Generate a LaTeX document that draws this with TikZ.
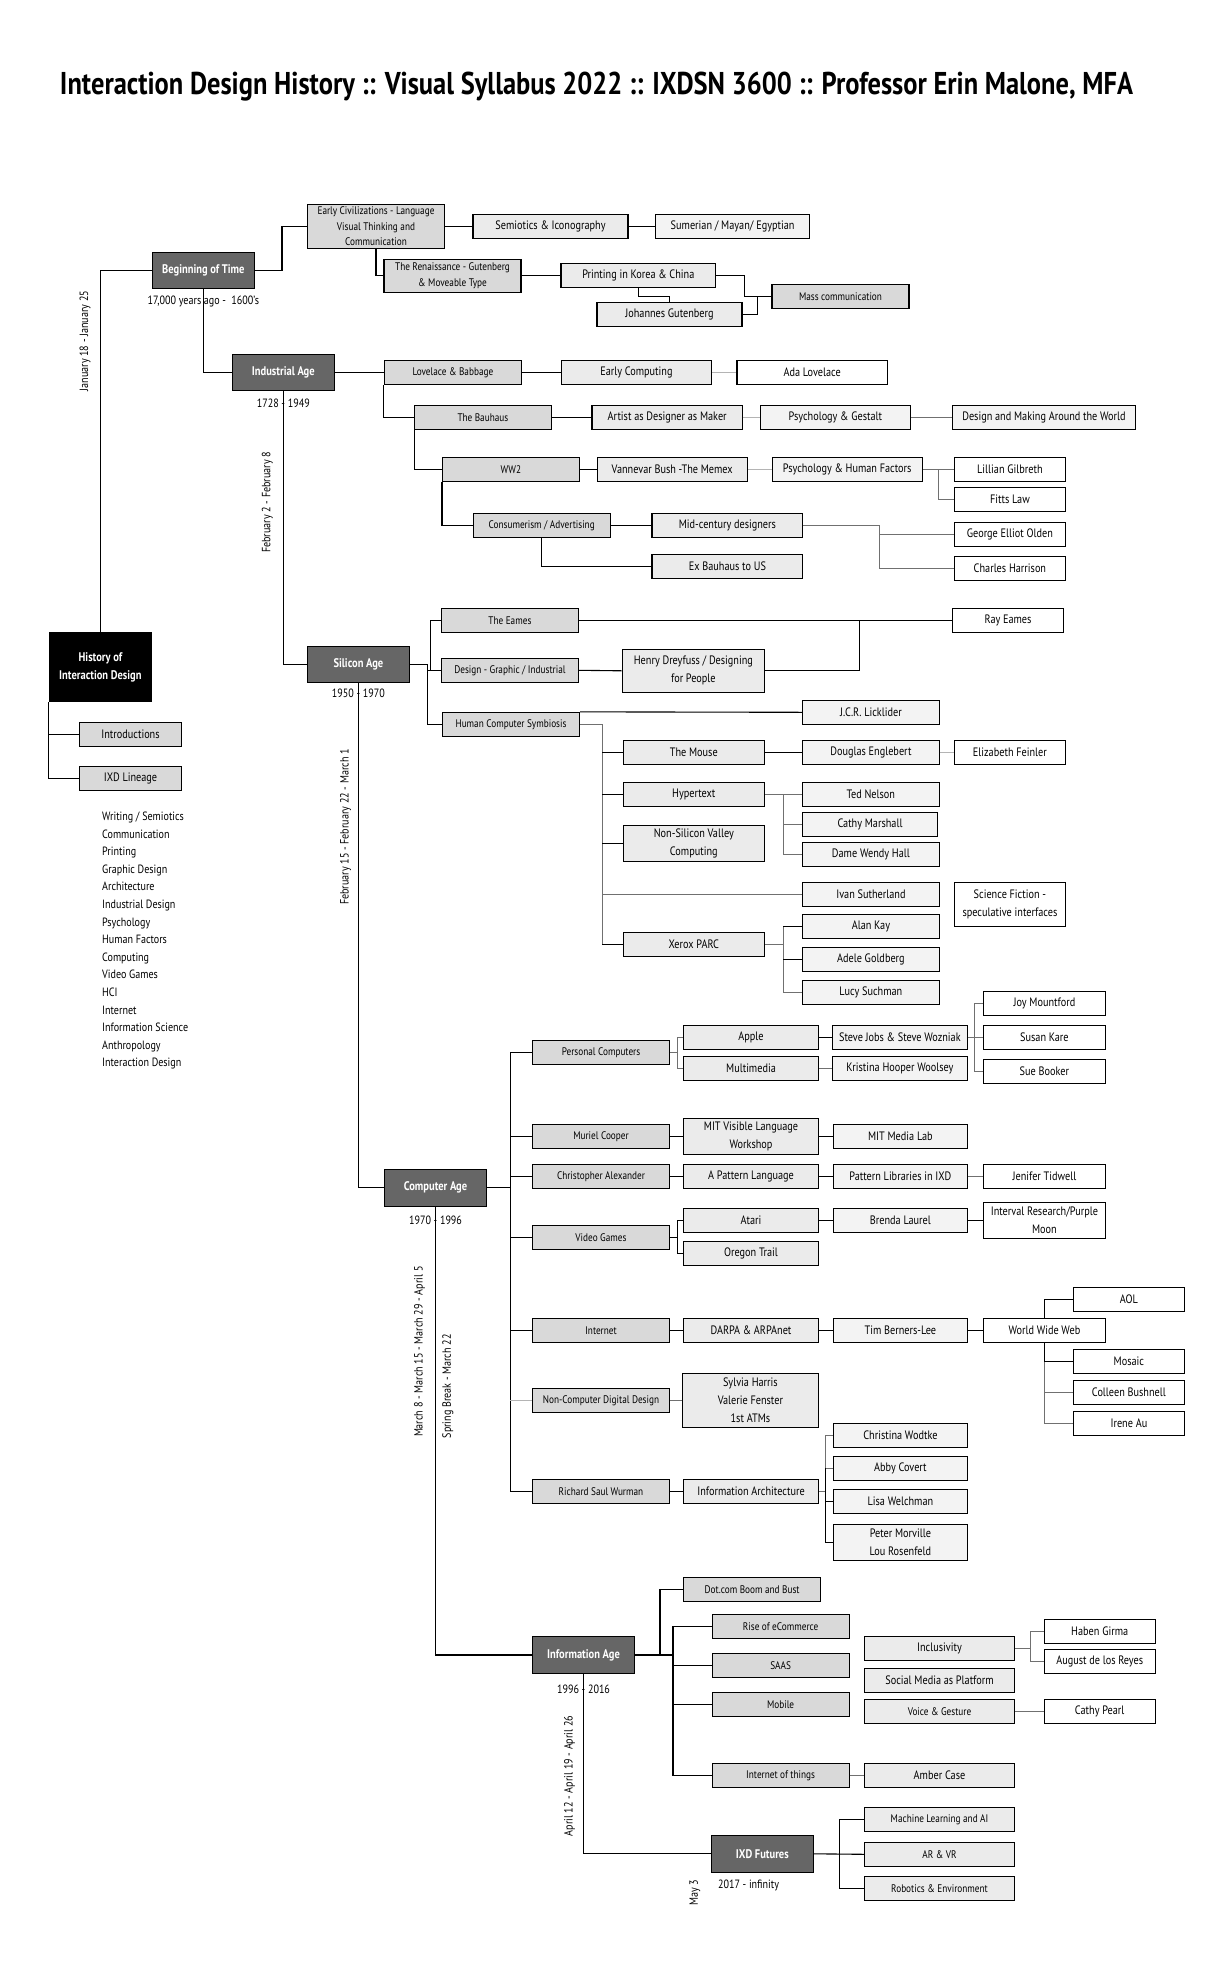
\documentclass[tikz,border=0pt]{standalone}
\usepackage{fontspec}
\setmainfont{PT Sans}[FakeStretch=0.84]
\usepackage{tikz}
\usetikzlibrary{positioning, calc}

\definecolor{agegray}{HTML}{666666}
\definecolor{boxA}{HTML}{D9D9D9}
\definecolor{boxB}{HTML}{EBEBEB}
\definecolor{boxC}{HTML}{F3F3F3}
\definecolor{wiregray}{HTML}{707070}
\definecolor{wirelight}{HTML}{B4B4B4}

\begin{document}
\begin{tikzpicture}[x=1pt, y=-1pt,
    nbox/.style={draw=black, line width=1.1pt, inner sep=0pt, inner xsep=2pt,
      minimum height=24pt, align=center, font=\fontsize{12.2}{18}\selectfont},
    sbox/.style={nbox, font=\fontsize{11}{15.7}\selectfont},
    wd/.style={minimum width=#1pt},
    ht/.style={minimum height=#1pt},
    agebox/.style={nbox, fill=agegray, text=white, minimum height=36pt,
      font=\bfseries\fontsize{12.5}{18}\selectfont},
    hist/.style={nbox, fill=black, text=white,
      font=\bfseries\fontsize{12.5}{18}\selectfont},
    topA/.style={sbox, fill=boxA},
    topAn/.style={nbox, fill=boxA},
    subB/.style={nbox, fill=boxB},
    subBs/.style={sbox, fill=boxB},
    leafC/.style={nbox, fill=boxC},
    leafW/.style={nbox, fill=white},
    wire/.style={draw=black, line width=1.1pt},
    wiregray/.style={draw=wiregray, line width=1.1pt},
    wirelight/.style={draw=wirelight, line width=1.1pt},
    datelbl/.style={font=\fontsize{12}{13}\selectfont, inner sep=0pt},
    weeklbl/.style={font=\fontsize{12}{13}\selectfont, inner sep=0pt, rotate=90},
    topic/.style={font=\fontsize{12}{13}\selectfont, inner sep=0pt, anchor=base west}
]
\fill[white] (0,0) rectangle (1224,1980);
\useasboundingbox (0,0) rectangle (1224,1980);

\node[font=\bfseries\fontsize{31.5}{34}\selectfont, anchor=base] (title) at (596.5,95)
  {Interaction Design History :: Visual Syllabus 2022 :: IXDSN 3600 :: Professor Erin Malone, MFA};

% history and lineage
\node[hist, wd=102.7, ht=69.4] (hixd) at (100.4,667) {History of\\Interaction Design};
\node[topAn, wd=102] (intro) at (130.5,734.3) {Introductions};
\node[topAn, wd=102] (lineage) at (130.5,778.3) {IXD Lineage};
\foreach \topic [count=\i from 0] in {Writing / Semiotics, Communication, Printing,
    Graphic Design, Architecture, Industrial Design, Psychology, Human Factors,
    Computing, Video Games, HCI, Internet, Information Science, Anthropology,
    Interaction Design}
  \node[topic] (topic\i) at (102,{820.5+17.6*\i}) {\topic};

% beginning of time
\node[agebox, wd=101.5] (bot) at (203.3,270.3) {Beginning of Time};
\node[topA, wd=137, ht=44] (earlyciv) at (376,226.3) {Early Civilizations - Language\\Visual Thinking and\\Communication};
\node[subB, wd=155] (semiotics) at (550.5,226.3) {Semiotics \& Iconography};
\node[leafC, wd=154] (sumerian) at (732.6,226.3) {Sumerian / Mayan/ Egyptian};
\node[topA, wd=137, ht=33] (renaissance) at (452.5,275.8) {The Renaissance - Gutenberg\\\& Moveable Type};
\node[subB, wd=154.6] (printing) at (638.3,275.8) {Printing in Korea \& China};
\node[subB, wd=145] (gutenberg) at (669.5,314.3) {Johannes Gutenberg};
\node[topA, wd=137] (masscomm) at (840.5,296.3) {Mass communication};

% industrial age
\node[agebox, wd=101.8] (industrial) at (283.3,372.3) {Industrial Age};
\node[topA, wd=137] (lovelace) at (452.9,372.3) {Lovelace \& Babbage};
\node[subB, wd=150.7] (earlycomp) at (636.4,372.3) {Early Computing};
\node[leafW, wd=150.4] (ada) at (812.2,372.3) {Ada Lovelace};
\node[topA, wd=136.6] (bauhaus) at (482.9,417.3) {The Bauhaus};
\node[subB, wd=150.4] (artist) at (667.2,417.3) {Artist as Designer as Maker};
\node[leafC, wd=150] (gestalt) at (835.4,417.3) {Psychology \& Gestalt};
\node[leafC, wd=183] (making) at (1044,417.3) {Design and Making Around the World};
\node[topA, wd=136.7] (ww2) at (510.9,469.3) {WW2};
\node[subB, wd=150.3] (memex) at (672.2,469.3) {Vannevar Bush -The Memex};
\node[leafC, wd=150] (humfac) at (847.2,469.3) {Psychology \& Human Factors};
\node[leafW, wd=111] (gilbreth) at (1009.9,469.3) {Lillian Gilbreth};
\node[leafW, wd=111] (fitts) at (1009.9,499.3) {Fitts Law};
\node[topA, wd=137] (consumer) at (541.7,525.3) {Consumerism / Advertising};
\node[subB, wd=150.8] (midcentury) at (727.4,525.3) {Mid-century designers};
\node[subB, wd=150.8] (exbauhaus) at (727.4,566.3) {Ex Bauhaus to US};
\node[leafW, wd=111] (olden) at (1009.9,534.3) {George Elliot Olden};
\node[leafW, wd=111] (harrison) at (1009.9,568.3) {Charles Harrison};

% silicon age
\node[agebox, wd=101.8] (silicon) at (358.4,664.5) {Silicon Age};
\node[topA, wd=137] (eames) at (509.9,620.3) {The Eames};
\node[topA, wd=137] (graphic) at (509.9,670.3) {Design - Graphic / Industrial};
\node[topA, wd=137] (symbiosis) at (511,724.4) {Human Computer Symbiosis};
\node[leafW, wd=111] (rayeames) at (1008,620.3) {Ray Eames};
\node[subB, wd=142.4, ht=43] (dreyfuss) at (693.4,670.8) {Henry Dreyfuss / Designing\\for People};
\node[leafC, wd=137] (licklider) at (870.9,712.3) {J.C.R. Licklider};
\node[subB, wd=141] (mouse) at (693.8,752.3) {The Mouse};
\node[subB, wd=141] (hypertext) at (693.8,794.3) {Hypertext};
\node[subB, wd=141, ht=36] (nonsv) at (693.8,843.3) {Non-Silicon Valley\\Computing};
\node[subB, wd=141] (xerox) at (693.8,944.3) {Xerox PARC};
\node[leafC, wd=137] (englebert) at (870.9,752.3) {Douglas Englebert};
\node[leafW, wd=111] (feinler) at (1009.9,752.3) {Elizabeth Feinler};
\node[leafC, wd=137] (nelson) at (870.9,794.3) {Ted Nelson};
\node[leafC, wd=135] (marshall) at (870,824.3) {Cathy Marshall};
\node[leafC, wd=137] (hall) at (870.9,854.3) {Dame Wendy Hall};
\node[leafC, wd=137] (sutherland) at (870.9,894.3) {Ivan Sutherland};
\node[leafW, wd=111, ht=44] (scifi) at (1009.9,904.3) {Science Fiction -\\speculative interfaces};
\node[leafC, wd=137] (kay) at (870.9,926.3) {Alan Kay};
\node[leafC, wd=137] (goldberg) at (870.9,959.3) {Adele Goldberg};
\node[leafC, wd=137] (suchman) at (870.9,992.3) {Lucy Suchman};

% computer age
\node[agebox, wd=102.2, ht=37] (computer) at (435.5,1187.8) {Computer Age};
\node[topA, wd=137] (personal) at (601,1052.3) {Personal Computers};
\node[topA, wd=137] (muriel) at (601,1136.3) {Muriel Cooper};
\node[topA, wd=137] (alexander) at (601,1176.3) {Christopher Alexander};
\node[topA, wd=137] (videogames) at (601,1237.3) {Video Games};
\node[topA, wd=137] (internet) at (601,1330.3) {Internet};
\node[topA, wd=137] (digital) at (601,1400.3) {Non-Computer Digital Design};
\node[topA, wd=137] (wurman) at (601,1491.3) {Richard Saul Wurman};
\node[subB, wd=135] (apple) at (751,1037.3) {Apple};
\node[subB, wd=135] (multimedia) at (751,1068.3) {Multimedia};
\node[leafC, wd=135] (jobs) at (899.9,1037.3) {Steve Jobs \& Steve Wozniak};
\node[leafC, wd=135] (woolsey) at (899.9,1068.3) {Kristina Hooper Woolsey};
\node[leafW, wd=121.7] (mountford) at (1044.4,1003.3) {Joy Mountford};
\node[leafW, wd=121.7] (kare) at (1044.4,1037.3) {Susan Kare};
\node[leafW, wd=121.7] (booker) at (1044.4,1071.3) {Sue Booker};
\node[subB, wd=135, ht=36] (vlw) at (751,1136.3) {MIT Visible Language\\Workshop};
\node[leafC, wd=134] (medialab) at (900.4,1136.3) {MIT Media Lab};
\node[subB, wd=135] (patternlang) at (751,1176.3) {A Pattern Language};
\node[leafC, wd=134] (patternlib) at (900.4,1176.3) {Pattern Libraries in IXD};
\node[leafW, wd=121.7] (tidwell) at (1044.4,1176.3) {Jenifer Tidwell};
\node[subB, wd=135] (atari) at (751,1220.3) {Atari};
\node[subB, wd=135] (oregon) at (751,1253.3) {Oregon Trail};
\node[leafC, wd=134] (laurel) at (900.4,1220.3) {Brenda Laurel};
\node[leafW, wd=121.7, ht=36] (interval) at (1044.4,1220.3) {Interval Research/Purple\\Moon};
\node[subB, wd=135] (darpa) at (751,1330.3) {DARPA \& ARPAnet};
\node[leafC, wd=134] (bernerslee) at (900.4,1330.3) {Tim Berners-Lee};
\node[leafW, wd=121.7] (www) at (1044.4,1330.3) {World Wide Web};
\node[leafW, wd=111] (aol) at (1128.9,1299.3) {AOL};
\node[leafW, wd=111] (mosaic) at (1128.9,1361.3) {Mosaic};
\node[leafW, wd=111] (bushnell) at (1128.9,1392.3) {Colleen Bushnell};
\node[leafW, wd=111] (au) at (1128.9,1423.3) {Irene Au};
\node[subB, wd=136.2, ht=54] (sylvia) at (750.4,1400.3) {Sylvia Harris\\Valerie Fenster\\1st ATMs};
\node[subB, wd=135] (infoarch) at (751,1491.3) {Information Architecture};
\node[leafC, wd=134] (wodtke) at (900.4,1435.3) {Christina Wodtke};
\node[leafC, wd=134] (covert) at (900.4,1468.3) {Abby Covert};
\node[leafC, wd=134] (welchman) at (900.4,1501.3) {Lisa Welchman};
\node[leafC, wd=134, ht=36] (morville) at (900.4,1542.3) {Peter Morville\\Lou Rosenfeld};

% information age and futures
\node[agebox, wd=102, ht=37] (infoage) at (583.5,1655) {Information Age};
\node[topA, wd=137.4] (dotcom) at (752.1,1589.3) {Dot.com Boom and Bust};
\node[topA, wd=137] (ecommerce) at (780.6,1626.3) {Rise of eCommerce};
\node[topA, wd=137] (saas) at (780.6,1665.3) {SAAS};
\node[topA, wd=137] (mobile) at (780.6,1704.3) {Mobile};
\node[topA, wd=137] (iot) at (780.6,1775.3) {Internet of things};
\node[subB, wd=150] (inclusivity) at (939.5,1648.3) {Inclusivity};
\node[subB, wd=150] (social) at (939.5,1680.3) {Social Media as Platform};
\node[subBs, wd=150] (voice) at (939.5,1711.3) {Voice \& Gesture};
\node[subB, wd=150] (amber) at (939.5,1775.3) {Amber Case};
\node[leafW, wd=111.3] (girma) at (1099.7,1631.3) {Haben Girma};
\node[leafW, wd=111.3] (reyes) at (1099.7,1661.3) {August de los Reyes};
\node[leafW, wd=111.3] (pearl) at (1099.7,1711.3) {Cathy Pearl};
\node[agebox, wd=101.8, ht=37] (futures) at (762.3,1853.8) {IXD Futures};
\node[subBs, wd=150] (mlai) at (939.5,1819.3) {Machine Learning and AI};
\node[subBs, wd=150] (arvr) at (939.5,1854.3) {AR \& VR};
\node[subBs, wd=150] (robotics) at (939.5,1888.3) {Robotics \& Environment};

% dates and weeks
\node[datelbl] (botyears) at (203.3,301.7) {17,000 years ago -\ \ 1600's};
\node[datelbl] (indyears) at (283.3,403.3) {1728 - 1949};
\node[datelbl] (silyears) at (358.4,693.3) {1950 - 1970};
\node[datelbl] (compyears) at (435.5,1220.7) {1970 - 1996};
\node[datelbl] (infoyears) at (583.5,1689.3) {1996 - 2016};
\node[datelbl] (futyears) at (748.5,1885.7) {2017 - infinity};
\node[weeklbl] (wk1) at (85,341) {January 18 - January 25};
\node[weeklbl] (wk2) at (267.3,502.5) {February 2 - February 8};
\node[weeklbl] (wk3) at (345.7,827) {February 15 - February 22 - March 1};
\node[weeklbl] (wk4) at (419.6,1351.7) {March 8 - March 15 - March 29 - April 5};
\node[weeklbl] (wk5) at (447.9,1386.3) {Spring Break - March 22};
\node[weeklbl] (wk6) at (569.6,1776) {April 12 - April 19 - April 26};
\node[weeklbl] (wk7) at (694.9,1892.5) {May 3};

% connectors
\draw[wire] (hixd.north) |- (bot.west);
\draw[wire] (hixd.south west) |- (intro.west);
\draw[wire] (hixd.south west) |- (lineage.west);
\draw[wire] (bot.east) -- ++(27.4,0) |- (earlyciv.west);
\draw[wire] (earlyciv.east) -- (semiotics.west);
\draw[wire] (semiotics.east) -- (sumerian.west);
\draw[wire] (earlyciv.south) |- (renaissance.west);
\draw[wire] (renaissance.east) -- (printing.west);
\draw[wire] (printing.south) -- ++(0,8) -| (gutenberg.north);
\draw[wire] (printing.east) -- ++(28.4,0) |- (masscomm.west);
\draw[wire] (gutenberg.east) -- ++(15,0) |- (masscomm.west);

\draw[wire] (bot.south) |- (industrial.west);
\draw[wire] (industrial.east) -- (lovelace.west);
\draw[wire] (lovelace.east) -- (earlycomp.west);
\draw[wirelight] (earlycomp.east) -- (ada.west);
\draw[wire] (lovelace.south west) |- (bauhaus.west);
\draw[wire] (bauhaus.east) -- (artist.west);
\draw[wirelight] (artist.east) -- (gestalt.west);
\draw[wiregray] (gestalt.east) -- (making.west);
\draw[wire] (bauhaus.south west) |- (ww2.west);
\draw[wire] (ww2.east) -- (memex.west);
\draw[wirelight] (memex.east) -- (humfac.west);
\draw[wiregray] (humfac.east) -- (gilbreth.west);
\draw[wiregray] (humfac.east) ++(16,0) |- (fitts.west);
\draw[wire] (ww2.south west) |- (consumer.west);
\draw[wire] (consumer.east) -- (midcentury.west);
\draw[wire] (consumer.south) |- (exbauhaus.west);
\draw[wiregray] (midcentury.east) -- ++(75.8,0) |- (olden.west);
\draw[wiregray] (midcentury.east) ++(75.8,0) |- (harrison.west);

\draw[wire] (industrial.south) |- (silicon.west);
\draw[wire] (silicon.east) -- ++(17.2,0) coordinate (silj) |- (symbiosis.west);
\draw[wire] (silj |- graphic.west) -- (graphic.west);
\draw[wire] ([xshift=-10pt]graphic.west) |- (eames.west);
\draw[wire] (eames.east) -- (rayeames.west);
\draw[wire] (graphic.east) -- (dreyfuss.west);
\draw[wire] (dreyfuss.east) -- ++(94.1,0) |- (rayeames.west);
\draw[wire] (symbiosis.north east) -- (licklider.west);
\draw[wiregray] (symbiosis.east) -- ++(22.2,0) coordinate (hcj) -- (hcj |- xerox.west);
\draw[wire] (hcj |- mouse.west) -- (mouse.west);
\draw[wire] (hcj |- hypertext.west) -- (hypertext.west);
\draw[wire] (hcj |- nonsv.west) -- (nonsv.west);
\draw[wiregray] (hcj |- sutherland.west) -- (sutherland.west);
\draw[wire] (hcj |- xerox.west) -- (xerox.west);
\draw[wire] (mouse.east) -- (englebert.west);
\draw[wirelight] (englebert.east) -- (feinler.west);
\draw[wiregray] (hypertext.east) -- (nelson.west);
\draw[wiregray] (hypertext.east) ++(19,0) |- (hall.west);
\draw[wiregray] (hypertext.east) ++(19,0) |- (marshall.west);
\draw[wiregray] (xerox.east) -- ++(19.4,0);
\draw[wiregray] (kay.west) -- ++(-18.7,0) |- (suchman.west);
\draw[wire] (kay.west) -- ++(-18.7,0);
\draw[wire] (goldberg.west) -- ++(-18.7,0);

\draw[wire] (silicon.south) |- (computer.west);
\draw[wire] (computer.east) -- ++(23,0) coordinate (caj);
\draw[wire] (caj |- personal.west) -- (caj |- wurman.west);
\foreach \n in {personal, muriel, alexander, videogames, internet, wurman}
  \draw[wire] (caj |- \n.west) -- (\n.west);
\draw[wirelight] (caj |- digital.west) -- (digital.west);
\draw[wiregray] (personal.east) -- ++(7,0) coordinate (pcj) |- (apple.west);
\draw[wiregray] (pcj) |- (multimedia.west);
\draw[wire] (apple.east) -- (jobs.west);
\draw[wiregray] (multimedia.east) -- (woolsey.west);
\draw[wiregray] (jobs.east) -- (kare.west);
\draw[wiregray] (mountford.west) -- ++(-8.5,0) |- (booker.west);
\draw[wire] (muriel.east) -- (vlw.west);
\draw[wire] (vlw.east) -- (medialab.west);
\draw[wire] (alexander.east) -- (patternlang.west);
\draw[wire] (patternlang.east) -- (patternlib.west);
\draw[wiregray] (patternlib.east) -- (tidwell.west);
\draw[wire] (videogames.east) -- ++(7,0) coordinate (vgj) |- (atari.west);
\draw[wire] (vgj) |- (oregon.west);
\draw[wire] (atari.east) -- (laurel.west);
\draw[wire] (laurel.east) -- (interval.west);
\draw[wire] (internet.east) -- (darpa.west);
\draw[wire] (darpa.east) -- (bernerslee.west);
\draw[wire] (bernerslee.east) -- (www.west);
\draw[wire] (www.north) |- (aol.west);
\draw[wiregray] (www.south) |- (au.west);
\draw[wiregray] (www.south) |- (bushnell.west);
\draw[wire] (www.south) |- (mosaic.west);
\draw[wiregray] (digital.east) -- (sylvia.west);
\draw[wire] (wurman.east) -- (infoarch.west);
\draw[wiregray] (infoarch.east) -- ++(7.3,0);
\draw[wiregray] (wodtke.west) -- ++(-7.6,0) |- (covert.west);
\draw[wire] (covert.west) ++(-7.6,0) |- (morville.west);
\draw[wire] (welchman.west) -- ++(-7.6,0);

\draw[wire] (computer.south) |- (infoage.west);
\draw[wire] (infoage.east) -- ++(24.9,0) |- (dotcom.west);
\draw[wire] (infoage.east) -- ++(39.1,0);
\draw[wire] (ecommerce.west) -- ++(-38.6,0) |- (iot.west);
\draw[wire] (saas.west) -- ++(-38.6,0);
\draw[wire] (mobile.west) -- ++(-38.6,0);
\draw[wiregray] (iot.east) -- (amber.west);
\draw[wiregray] (inclusivity.east) -- ++(15,0) |- (girma.west);
\draw[wiregray] (inclusivity.east) ++(15,0) |- (reyes.west);
\draw[wiregray] (voice.east) -- (pearl.west);
\draw[wire] (infoage.south) |- (futures.west);
\draw[wire] (futures.east) -- (arvr.west);
\draw[wire] (mlai.west) -- ++(-24.8,0) |- (robotics.west);

\end{tikzpicture}
\end{document}
